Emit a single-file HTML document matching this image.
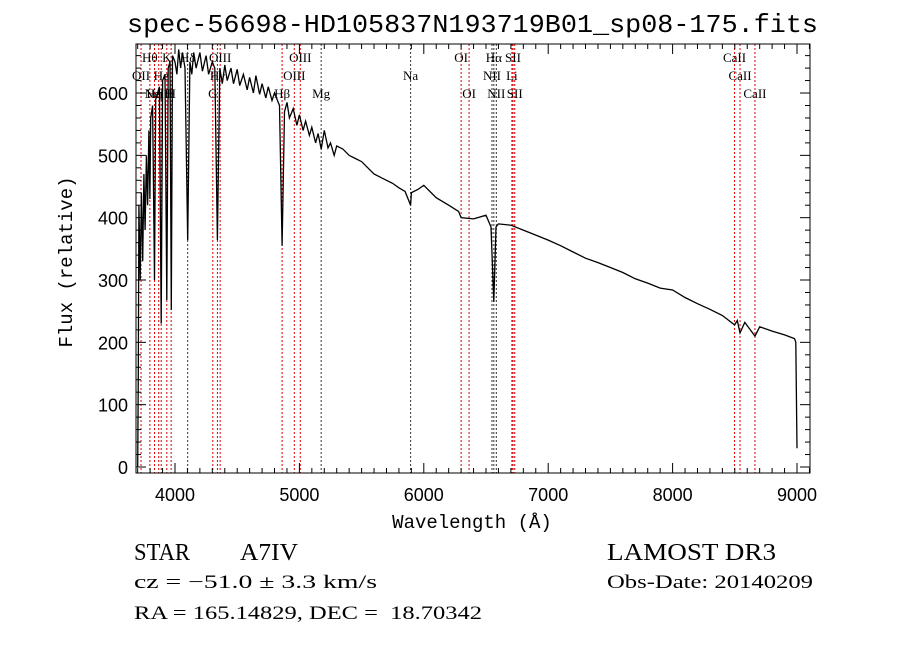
<!DOCTYPE html>
<html><head><meta charset="utf-8"><style>
body{margin:0;background:#fff;width:900px;height:649px;overflow:hidden}
svg{display:block}
text{fill:#000}
</style></head><body>
<svg id="chart" width="900" height="649" xmlns="http://www.w3.org/2000/svg">
<rect width="900" height="649" fill="#fff"/>
<text x="127" y="32" textLength="691" lengthAdjust="spacingAndGlyphs" font-family="Liberation Mono, monospace" font-size="26">spec-56698-HD105837N193719B01_sp08-175.fits</text>
<g id="lines"></g>
<g id="labels"></g>
<g id="spec"></g>
<g id="axes"></g>
<text x="472" y="528" text-anchor="middle" font-family="Liberation Mono, monospace" font-size="19">Wavelength (Å)</text>
<text transform="translate(72,262) rotate(-90)" text-anchor="middle" font-family="Liberation Mono, monospace" font-size="19">Flux (relative)</text>
<text x="134" y="560" textLength="56" lengthAdjust="spacingAndGlyphs" font-family="Liberation Serif, serif" font-size="24">STAR</text>
<text x="240" y="560" textLength="58" lengthAdjust="spacingAndGlyphs" font-family="Liberation Serif, serif" font-size="24">A7IV</text>
<text x="607" y="560" textLength="169" lengthAdjust="spacingAndGlyphs" font-family="Liberation Serif, serif" font-size="24">LAMOST DR3</text>
<text x="134" y="588" textLength="243" lengthAdjust="spacingAndGlyphs" font-family="Liberation Serif, serif" font-size="19">cz = −51.0 ± 3.3 km/s</text>
<text x="607" y="588" textLength="206" lengthAdjust="spacingAndGlyphs" font-family="Liberation Serif, serif" font-size="19">Obs-Date: 20140209</text>
<text x="134" y="619" textLength="348" lengthAdjust="spacingAndGlyphs" font-family="Liberation Serif, serif" font-size="19" xml:space="preserve">RA = 165.14829, DEC =  18.70342</text>
</svg>
<script>
const waves=[3700,3705,3710,3720,3730,3740,3750,3760,3770,3780,3790,3798,3805,3820,3835,3845,3860,3875,3889,3900,3920,3934,3945,3960,3970,3980,4000,4015,4030,4045,4060,4080,4102,4120,4135,4150,4170,4200,4220,4250,4270,4300,4320,4341,4360,4380,4400,4420,4450,4470,4500,4520,4550,4580,4600,4630,4650,4680,4700,4730,4750,4780,4800,4840,4861,4880,4900,4920,4950,4980,5000,5030,5050,5080,5100,5130,5150,5175,5200,5230,5250,5280,5300,5350,5400,5450,5500,5550,5600,5650,5700,5750,5800,5850,5894,5900,5950,6000,6100,6200,6280,6300,6400,6500,6540,6563,6580,6600,6700,6800,6900,7000,7100,7200,7300,7400,7500,7600,7700,7800,7900,8000,8100,8200,8300,8400,8498,8520,8542,8580,8662,8700,8800,8900,8980,8990,9000];
const fluxes=[0,150,420,300,440,330,470,380,500,420,540,430,560,580,300,590,600,610,230,620,630,268,640,650,252,660,650,630,670,640,665,640,364,650,630,665,640,665,635,660,630,650,640,364,640,615,645,620,640,615,638,612,630,605,625,600,628,598,615,592,610,588,600,580,355,570,585,560,575,548,565,540,555,532,545,520,535,510,540,512,520,500,515,510,500,495,490,480,470,465,460,455,448,442,420,440,445,452,432,420,410,400,398,404,385,265,385,390,388,380,372,364,355,345,335,328,320,312,302,295,287,284,272,262,253,243,228,235,215,232,210,225,218,212,206,200,30];
const lineWaves=[3727,3798,3835,3869,3889,3934,3969,4102,4304,4341,4363,4861,4959,5007,5175,5894,6300,6364,6548,6563,6583,6708,6717,6731,8498,8542,8662];
const lineNames=["OII","Hθ","Hη","NeIII","He","K","H","Hδ","G","Hγ","OIII","Hβ","OIII","OIII","Mg","Na","OI","OI","NII","Hα","NII","Li","SII","SII","CaII","CaII","CaII"];
const lineRows=[1,0,2,2,1,0,2,0,2,1,0,2,1,0,2,1,0,2,1,0,2,1,0,2,0,1,2];
const lineRed=[1,1,1,1,1,1,1,0,1,1,1,1,1,1,0,0,1,1,0,0,0,1,1,1,1,1,1];
const xTicks=[4000,5000,6000,7000,8000,9000];
const yTicks=[0,100,200,300,400,500,600];
const X0=136,X1=810,Y0=44,Y1=473;
const x=w=>175+(w-4000)*0.1244;
const y=f=>467-f*0.6233;
const NS="http://www.w3.org/2000/svg";
function mk(tag,attrs,parent){const e=document.createElementNS(NS,tag);for(const k in attrs)e.setAttribute(k,attrs[k]);parent.appendChild(e);return e;}
const gl=document.getElementById('lines'),gt=document.getElementById('labels'),gs=document.getElementById('spec'),ga=document.getElementById('axes');
lineWaves.forEach((w,i)=>{
 const l=mk('line',{x1:x(w),x2:x(w),y1:Y0,y2:Y1,stroke:lineRed[i]?'#d00':'#333','stroke-width':1,'stroke-dasharray':'2,2'},gl);
 
 
 const t=mk('text',{x:x(w),y:62+lineRows[i]*18,'text-anchor':'middle','font-family':'Liberation Serif, serif','font-size':13},gt);
 t.textContent=lineNames[i];
 
 
});
const cp=mk('clipPath',{id:'clip'},gs);mk('rect',{x:X0,y:Y0,width:X1-X0,height:Y1-Y0},cp);
const pts=waves.map((w,i)=>x(w).toFixed(1)+','+y(fluxes[i]).toFixed(1)).join(' ');
const pl=mk('polyline',{points:pts,fill:'none',stroke:'#000','stroke-width':1.3,'clip-path':'url(#clip)'},gs);


const fr=mk('rect',{x:X0,y:Y0,width:X1-X0,height:Y1-Y0,fill:'none',stroke:'#000','stroke-width':1},ga);


for(let w=3700;w<=9100;w+=100){const maj=w%1000===0;const L=maj?10:5;
 mk('line',{x1:x(w),x2:x(w),y1:Y1,y2:Y1-L,stroke:'#000'},ga);mk('line',{x1:x(w),x2:x(w),y1:Y0,y2:Y0+L,stroke:'#000'},ga);}
for(let f=0;f<=660;f+=20){const maj=f%100===0;const L=maj?10:5;
 mk('line',{x1:X0,x2:X0+L,y1:y(f),y2:y(f),stroke:'#000'},ga);mk('line',{x1:X1,x2:X1-L,y1:y(f),y2:y(f),stroke:'#000'},ga);}
xTicks.forEach(w=>{const t=mk('text',{x:x(w),y:501,'text-anchor':'middle','font-family':'Liberation Sans, sans-serif','font-size':18},ga);t.textContent=w;
 
 });
yTicks.forEach(f=>{const t=mk('text',{x:128,y:y(f)+7,'text-anchor':'end','font-family':'Liberation Sans, sans-serif','font-size':18},ga);t.textContent=f;
 
 });
</script>
</body></html>
